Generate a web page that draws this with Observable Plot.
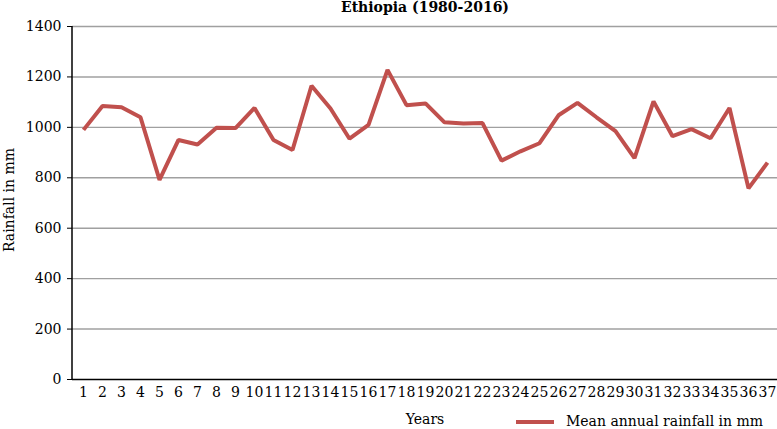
<!DOCTYPE html>
<html>
<head>
<meta charset="utf-8">
<script src="https://cdn.jsdelivr.net/npm/d3@7"></script>
<script src="https://cdn.jsdelivr.net/npm/@observablehq/plot@0.6"></script>
<style>
  html, body { margin: 0; padding: 0; background: #fff; }
  #chart svg { display: block; }
</style>
</head>
<body>
<div id="chart"></div>
<script>
const years = d3.range(1, 38);
const rainfall = [990, 1085, 1080, 1040, 792, 950, 932, 998, 997, 1077,
                  950, 910, 1165, 1075, 955, 1010, 1228, 1088, 1095, 1020,
                  1015, 1017, 868, 905, 937, 1048, 1097, 1040, 985, 878,
                  1103, 965, 993, 957, 1077, 758, 860];
const yTicks = [0, 200, 400, 600, 800, 1000, 1200, 1400];
const title = "Ethiopia (1980-2016)";
const xLabel = "Years";
const yLabel = "Rainfall in mm";
const seriesName = "Mean annual rainfall in mm";
const lineColor = "#C0504D";

const data = years.map((y, i) => ({year: y, value: rainfall[i]}));
const font = "DejaVu Serif";

const chart = Plot.plot({
  width: 777,
  height: 429,
  marginTop: 26,
  marginBottom: 50,
  marginLeft: 72,
  marginRight: 0,
  style: {fontFamily: font, fontSize: "14px", color: "#000", background: "#fff"},
  x: {type: "point", domain: years, padding: 0.5, label: null},
  y: {domain: [0, 1400], label: null},
  marks: [
    Plot.ruleY(yTicks.filter(d => d > 0), {stroke: "#a0a0a0", strokeWidth: 1.4}),
    Plot.axisY(yTicks, {tickSize: 5, tickPadding: 6, fontSize: 14, stroke: "#000", tickFormat: d => String(d)}),
    Plot.axisX(years, {tickSize: 0, tickPadding: 8, fontSize: 14, tickFormat: d => String(d)}),
    Plot.ruleY([0], {stroke: "#000", strokeWidth: 1.5}),
    Plot.line(data, {x: "year", y: "value", stroke: lineColor, strokeWidth: 4, strokeLinejoin: "miter", strokeLinecap: "butt"})
  ]
});

const svg = d3.select(chart);
// y axis line
svg.append("line")
  .attr("x1", 72).attr("x2", 72).attr("y1", 26).attr("y2", 379.5)
  .attr("stroke", "#000").attr("stroke-width", 1.5);

svg.append("text")
  .attr("x", 425).attr("y", 12)
  .attr("text-anchor", "middle")
  .attr("font-family", font).attr("font-weight", "bold").attr("font-size", 14)
  .attr("fill", "#000")
  .text(title);

svg.append("text")
  .attr("transform", "translate(14,200) rotate(-90)")
  .attr("text-anchor", "middle")
  .attr("font-family", font).attr("font-size", 14)
  .attr("fill", "#000")
  .text(yLabel);

svg.append("text")
  .attr("x", 425).attr("y", 424)
  .attr("text-anchor", "middle")
  .attr("font-family", font).attr("font-size", 14)
  .attr("fill", "#000")
  .text(xLabel);

svg.append("line")
  .attr("x1", 516).attr("x2", 554).attr("y1", 422).attr("y2", 422)
  .attr("stroke", lineColor).attr("stroke-width", 4);

svg.append("text")
  .attr("x", 566).attr("y", 426)
  .attr("text-anchor", "start")
  .attr("font-family", font).attr("font-size", 14)
  .attr("fill", "#000")
  .text(seriesName);

document.getElementById("chart").appendChild(chart);
</script>
</body>
</html>
